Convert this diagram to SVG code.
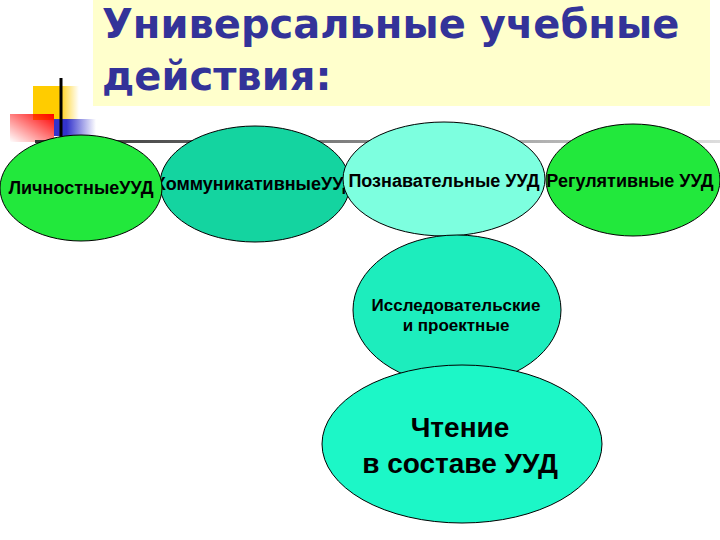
<svg xmlns="http://www.w3.org/2000/svg" width="720" height="540" viewBox="0 0 720 540">
<defs>
<linearGradient id="gYel" x1="0" y1="0" x2="1" y2="0"><stop offset="0" stop-color="#FFCC00"/><stop offset="0.55" stop-color="#FFCC00"/><stop offset="1" stop-color="#FFCC00" stop-opacity="0"/></linearGradient>
<linearGradient id="gRed" x1="1" y1="0" x2="0" y2="1"><stop offset="0" stop-color="#FF0000"/><stop offset="1" stop-color="#FF0000" stop-opacity="0"/></linearGradient>
<linearGradient id="gBlue" x1="0" y1="0" x2="1" y2="0"><stop offset="0" stop-color="#3333CC"/><stop offset="0.3" stop-color="#3333CC"/><stop offset="1" stop-color="#3333CC" stop-opacity="0"/></linearGradient>
<linearGradient id="gLine" x1="0" y1="0" x2="1" y2="0"><stop offset="0" stop-color="#333333"/><stop offset="0.5" stop-color="#888888"/><stop offset="1" stop-color="#DDDDDD"/></linearGradient>
<style>
.t{font-family:"Liberation Sans",Arial,sans-serif;font-weight:bold;fill:#000;text-anchor:middle}
.s{font-size:18px}
.n{stroke:#000;stroke-width:1}
.h{font-family:"DejaVu Sans",Verdana,sans-serif;font-weight:bold;font-size:40px;fill:#333399}
</style>
</defs>
<rect x="93" y="0" width="617" height="106" fill="#FFFFCC"/>
<text class="h" x="102" y="38">Универсальные учебные</text>
<text class="h" x="102" y="90">действия:</text>
<rect x="33" y="86" width="46" height="34" fill="url(#gYel)"/>
<rect x="10" y="114" width="44" height="28" fill="url(#gRed)"/>
<rect x="54" y="119" width="42" height="17" fill="url(#gBlue)"/>
<rect x="35" y="140" width="685" height="3" fill="url(#gLine)"/>
<line x1="61" y1="78" x2="61" y2="141" stroke="#000" stroke-width="3"/>
<g id="conn"></g>
<g id="n2"><ellipse class="n" cx="255" cy="184" rx="95" ry="58" fill="#14D4A0"/><text class="t s" x="255" y="190">КоммуникативныеУУД</text></g>
<g id="n1"><ellipse class="n" cx="81" cy="188" rx="81" ry="53" fill="#22E83C"/><text class="t s" x="81" y="194">ЛичностныеУУД</text></g>
<g id="n3"><ellipse class="n" cx="444" cy="179" rx="101" ry="57" fill="#7DFFDF"/><text class="t s" x="444" y="187">Познавательные УУД</text></g>
<g id="n4"><ellipse class="n" cx="633" cy="180" rx="87" ry="56" fill="#22E83C"/><text class="t s" x="630" y="187">Регулятивные УУД</text></g>
<g id="n5"><ellipse class="n" cx="457" cy="310" rx="104" ry="75" fill="#1DEDBD"/><text class="t" font-size="17" x="456" y="311">Исследовательские</text><text class="t" font-size="17" x="456" y="331">и проектные</text></g>
<g id="n6"><ellipse class="n" cx="462" cy="444" rx="140" ry="79" fill="#1CF7C7"/><text class="t" font-size="28" x="460" y="437">Чтение</text><text class="t" font-size="28" x="460" y="473">в составе УУД</text></g>
</svg>
